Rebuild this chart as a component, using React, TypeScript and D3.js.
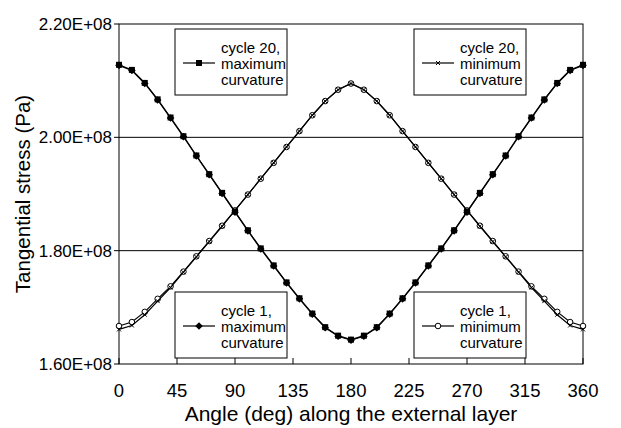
import React from "react";
import * as d3 from "d3";

const angles = [0,10,20,30,40,50,60,70,80,90,100,110,120,130,140,150,160,170,180,190,200,210,220,230,240,250,260,270,280,290,300,310,320,330,340,350,360];

// values in units of 1e8 Pa
const maxCycle20 = [2.128,2.119,2.096,2.067,2.035,2.002,1.968,1.935,1.902,1.869,1.836,1.804,1.774,1.744,1.716,1.689,1.665,1.650,1.643,1.650,1.665,1.689,1.716,1.744,1.774,1.804,1.836,1.869,1.902,1.935,1.968,2.002,2.035,2.067,2.096,2.119,2.128];
const maxCycle1 = [2.127,2.118,2.095,2.066,2.034,2.001,1.967,1.934,1.901,1.868,1.835,1.803,1.773,1.743,1.715,1.688,1.664,1.649,1.642,1.649,1.664,1.688,1.715,1.743,1.773,1.803,1.835,1.868,1.901,1.934,1.967,2.001,2.034,2.066,2.095,2.118,2.127];
const minCycle1 = [1.667,1.674,1.692,1.715,1.737,1.763,1.790,1.817,1.844,1.871,1.899,1.927,1.955,1.983,2.011,2.039,2.064,2.084,2.095,2.084,2.064,2.039,2.011,1.983,1.955,1.927,1.899,1.871,1.844,1.817,1.790,1.763,1.737,1.715,1.692,1.674,1.667];
const minCycle20 = [1.661,1.668,1.687,1.711,1.735,1.762,1.789,1.816,1.843,1.871,1.899,1.927,1.955,1.983,2.011,2.039,2.064,2.084,2.095,2.084,2.064,2.039,2.011,1.983,1.955,1.927,1.899,1.871,1.843,1.816,1.789,1.762,1.735,1.711,1.687,1.668,1.661];

const xTicks = [0,45,90,135,180,225,270,315,360];
const yTicks = [1.6e8,1.8e8,2.0e8,2.2e8];
const yTickLabels = ["1.60E+08","1.80E+08","2.00E+08","2.20E+08"];
const gridValues = [1.8e8,2.0e8];

const xTitle = "Angle (deg) along the external layer";
const yTitle = "Tangential stress (Pa)";

type Marker = "square" | "diamond" | "circle" | "x";

const legends: { lines: string[]; marker: Marker; x: number; y: number }[] = [
  { lines: ["cycle 20,", "maximum", "curvature"], marker: "square", x: 175, y: 29 },
  { lines: ["cycle 20,", "minimum", "curvature"], marker: "x", x: 414, y: 29 },
  { lines: ["cycle 1,", "maximum", "curvature"], marker: "diamond", x: 175, y: 292 },
  { lines: ["cycle 1,", "minimum", "curvature"], marker: "circle", x: 414, y: 292 },
];

const FONT = "'Liberation Sans', Arial, sans-serif";

function MarkerShape({ type, cx, cy }: { type: Marker; cx: number; cy: number }) {
  if (type === "square") return <rect x={cx - 3} y={cy - 3} width={6} height={6} fill="#000" />;
  if (type === "diamond")
    return <path d={`M${cx},${cy - 3.8}L${cx + 3.8},${cy}L${cx},${cy + 3.8}L${cx - 3.8},${cy}Z`} fill="#000" />;
  if (type === "circle") return <circle cx={cx} cy={cy} r={2.8} fill="#fff" stroke="#000" strokeWidth={1} />;
  return (
    <path d={`M${cx - 2},${cy - 2}L${cx + 2},${cy + 2}M${cx - 2},${cy + 2}L${cx + 2},${cy - 2}`} stroke="#000" strokeWidth={1} />
  );
}

export default function App() {
  const W = 621, H = 428;
  const x = d3.scaleLinear().domain([0, 360]).range([119, 583]);
  const y = d3.scaleLinear().domain([1.6e8, 2.2e8]).range([364, 24]);
  const line = d3.line<[number, number]>().x(d => x(d[0])).y(d => y(d[1] * 1e8));

  const series: { vals: number[]; marker: Marker }[] = [
    { vals: maxCycle1, marker: "diamond" },
    { vals: minCycle1, marker: "circle" },
    { vals: maxCycle20, marker: "square" },
    { vals: minCycle20, marker: "x" },
  ];

  return (
    <svg width={W} height={H} style={{ position: "absolute", left: 0, top: 0, background: "#fff" }} fontFamily={FONT}>
      <rect x={0} y={0} width={W} height={H} fill="#fff" />
      {gridValues.map(v => (
        <line key={v} x1={x(0)} x2={x(360)} y1={y(v)} y2={y(v)} stroke="#000" strokeWidth={1} />
      ))}
      <rect x={x(0)} y={y(2.2e8)} width={x(360) - x(0)} height={y(1.6e8) - y(2.2e8)} fill="none" stroke="#000" strokeWidth={1} />
      {xTicks.map(t => (
        <g key={t}>
          <line x1={x(t)} x2={x(t)} y1={y(1.6e8)} y2={y(1.6e8) - 6} stroke="#000" />
          <text x={x(t)} y={397} textAnchor="middle" fontSize={18.5}>{t}</text>
        </g>
      ))}
      {yTicks.map((t, i) => (
        <g key={t}>
          <line x1={x(0) - 5} x2={x(0)} y1={y(t)} y2={y(t)} stroke="#000" />
          <text x={112} y={y(t) + 6} textAnchor="end" fontSize={17}>{yTickLabels[i]}</text>
        </g>
      ))}
      <text x={(x(0) + x(360)) / 2} y={421} textAnchor="middle" fontSize={21}>{xTitle}</text>
      <text transform={`translate(30,${(y(1.6e8) + y(2.2e8)) / 2}) rotate(-90)`} textAnchor="middle" fontSize={20.5}>{yTitle}</text>

      {series.map((s, si) => {
        const pts: [number, number][] = angles.map((a, i) => [a, s.vals[i]]);
        return (
          <g key={si}>
            <path d={line(pts) || ""} fill="none" stroke="#000" strokeWidth={1.2} />
            {pts.map((p, i) => (
              <MarkerShape key={i} type={s.marker} cx={x(p[0])} cy={y(p[1] * 1e8)} />
            ))}
          </g>
        );
      })}

      {legends.map((l, i) => (
        <g key={i}>
          <rect x={l.x} y={l.y} width={112} height={66} fill="#fff" stroke="#000" strokeWidth={1} />
          <line x1={l.x + 8} x2={l.x + 40} y1={l.y + 34} y2={l.y + 34} stroke="#000" strokeWidth={1.2} />
          <MarkerShape type={l.marker} cx={l.x + 24} cy={l.y + 34} />
          {l.lines.map((t, j) => (
            <text key={j} x={l.x + 46} y={l.y + 24 + j * 16} fontSize={15}>{t}</text>
          ))}
        </g>
      ))}
    </svg>
  );
}
